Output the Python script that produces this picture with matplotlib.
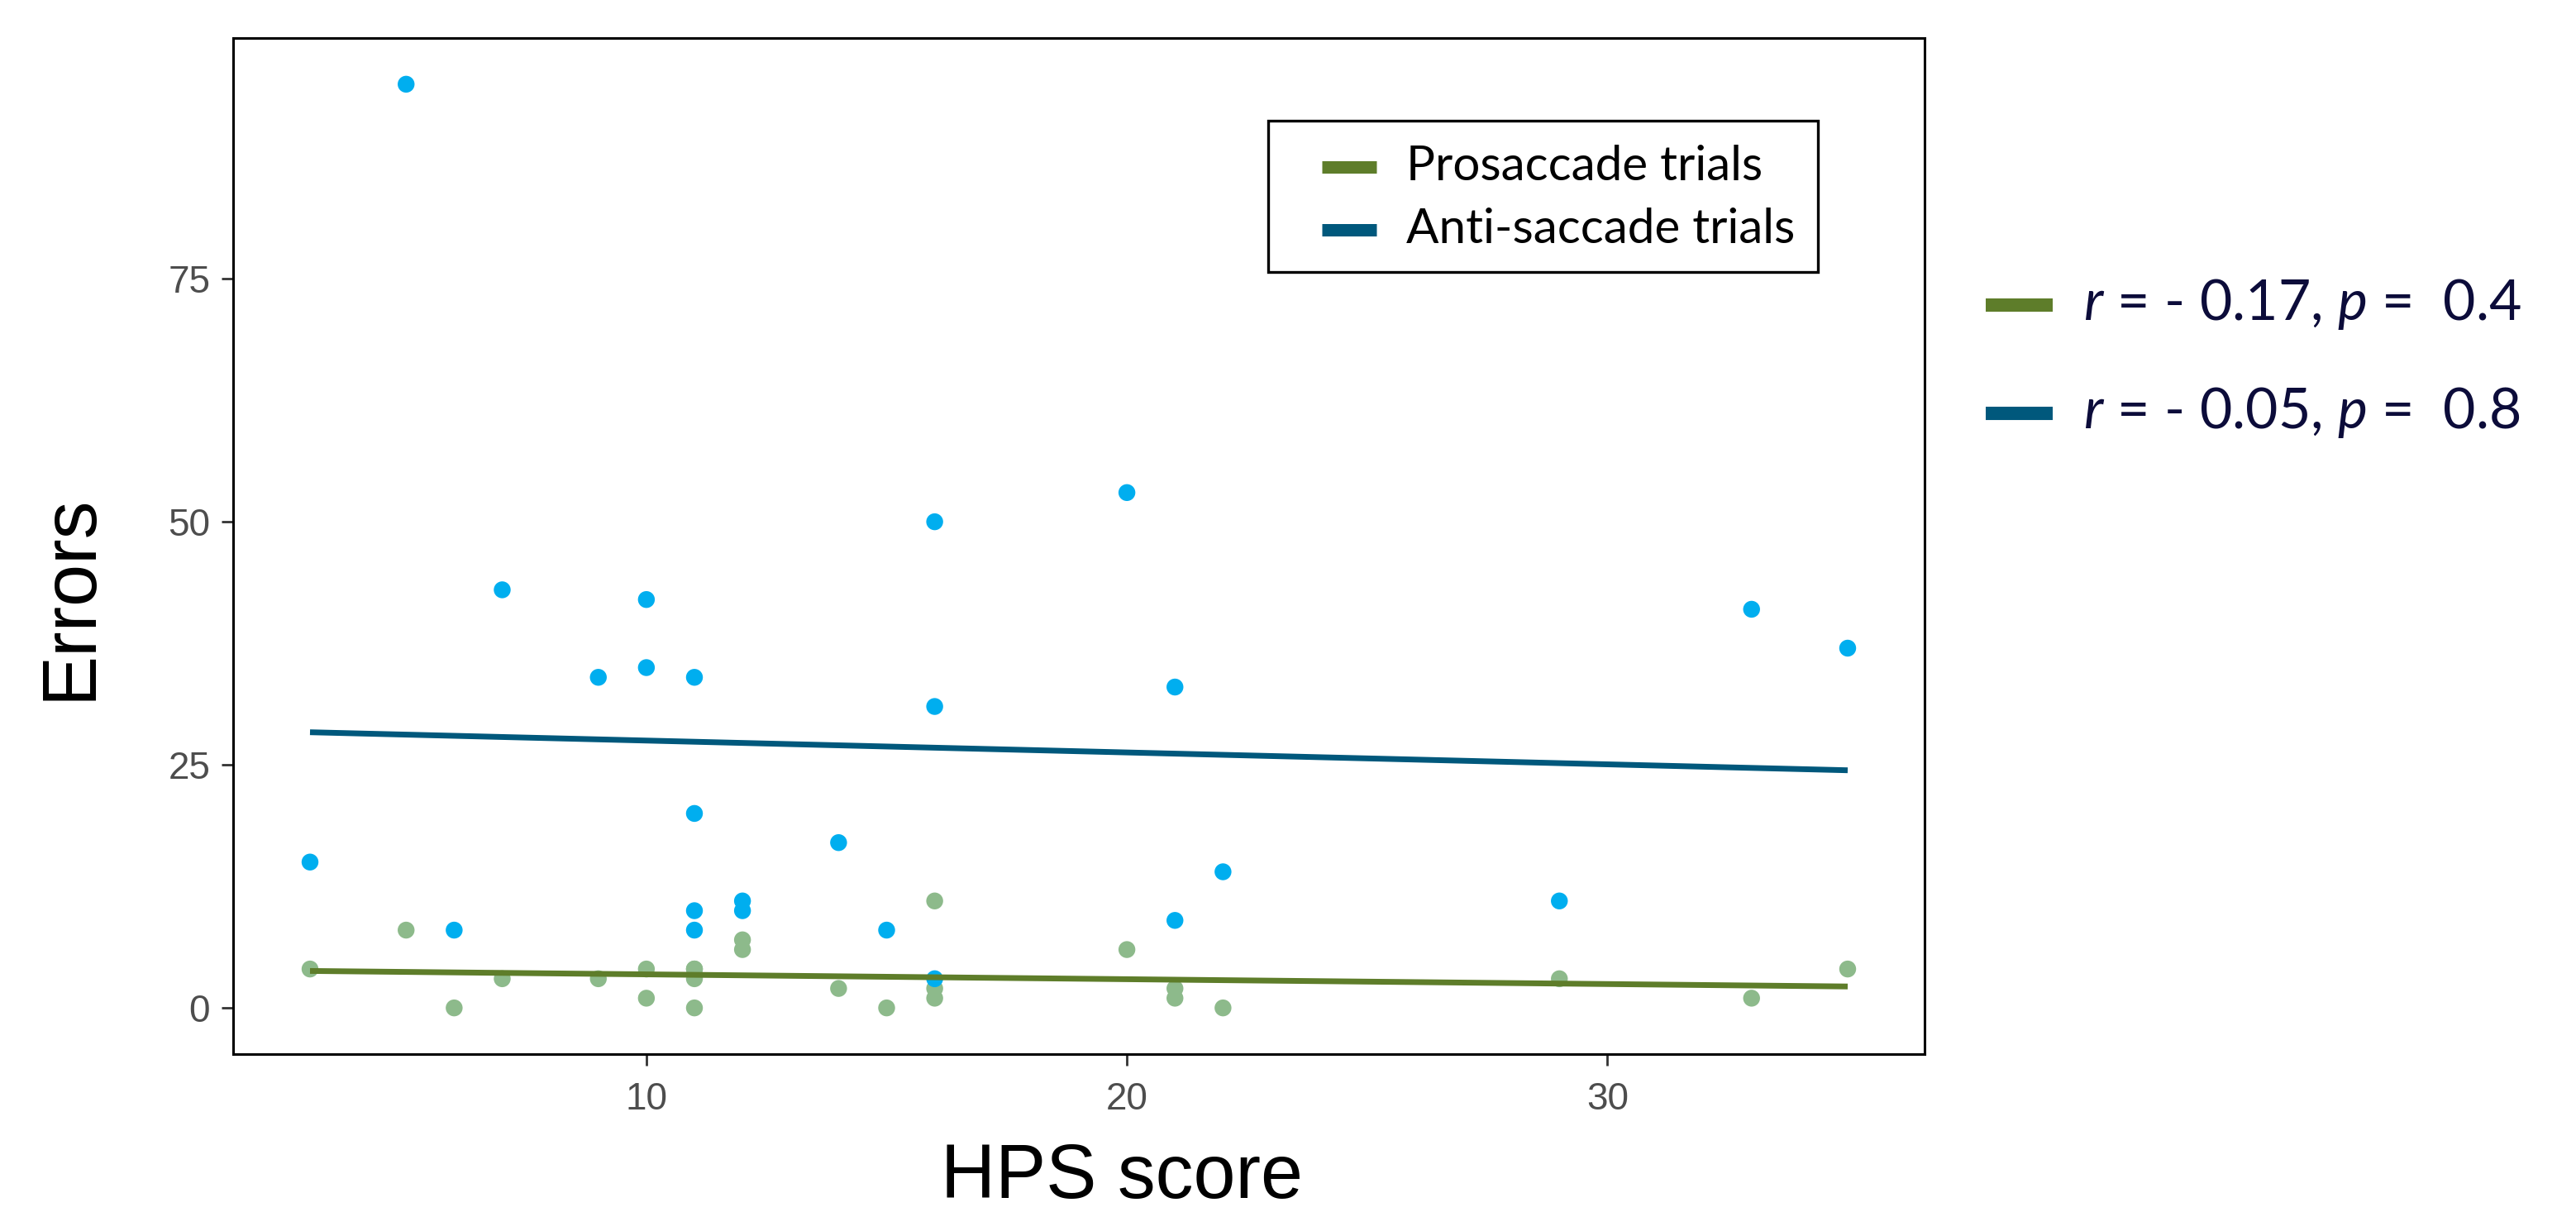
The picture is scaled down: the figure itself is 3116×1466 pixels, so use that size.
import numpy as np
import matplotlib.pyplot as plt
from matplotlib.lines import Line2D
from matplotlib.patches import Rectangle

# HPS score of each participant, with errors on both trial types
hps_score = [3, 5, 6, 7, 9, 10, 10, 11, 11, 11, 11, 12, 12, 14, 15, 16, 16, 16, 20, 21, 21, 22, 29, 33, 35]
pro_errors = [4, 8, 0, 3, 3, 4, 1, 4, 4, 3, 0, 7, 6, 2, 0, 11, 2, 1, 6, 2, 1, 0, 3, 1, 4]
anti_errors = [15, 95, 8, 43, 34, 42, 35, 34, 20, 10, 8, 11, 10, 17, 8, 50, 31, 3, 53, 33, 9, 14, 11, 41, 37]

series_names = ['Prosaccade trials', 'Anti-saccade trials']
r_values = ['- 0.17', '- 0.05']
p_values = ['0.4', '0.8']

x_ticks = [10, 20, 30]
y_ticks = [0, 25, 50, 75]

point_colors = ['#8dba8b', '#00aeef']
line_colors = ['#5e7d2a', '#00587c']

plt.rcParams['mathtext.fontset'] = 'custom'
plt.rcParams['mathtext.rm'] = 'Lato'
plt.rcParams['mathtext.it'] = 'Lato:italic'

W, H = 3116, 1466
fig = plt.figure(figsize=(W / 200, H / 200), dpi=200)
ax = fig.add_axes([282 / W, 1 - 1275 / H, (2328 - 282) / W, (1275 - 46) / H])


def fx(px):
    return px / W


def fy(py):
    return 1 - py / H


x = np.array(hps_score)
series = [np.array(pro_errors), np.array(anti_errors)]

# points first, then the fitted lines on top
for y, c in zip(series, point_colors):
    ax.scatter(x, y, s=54, color=c, edgecolors='none', zorder=2)

xs = np.array([x.min(), x.max()])
for y, c in zip(series[::-1], line_colors[::-1]):
    slope, intercept = np.polyfit(x, y, 1)
    ax.plot(xs, slope * xs + intercept, color=c, lw=2.5, solid_capstyle='butt', zorder=3)

# ggplot style 5% expansion
ymax = max(max(pro_errors), max(anti_errors))
xr = x.max() - x.min()
ax.set_xlim(x.min() - 0.05 * xr, x.max() + 0.05 * xr)
ax.set_ylim(-0.05 * ymax, ymax * 1.05)
ax.set_xticks(x_ticks)
ax.set_yticks(y_ticks)

for s in ax.spines.values():
    s.set_linewidth(1.1)
    s.set_color('black')
ax.tick_params(length=5, width=1.0, color='#333333', labelsize=16.5, labelcolor='#4d4d4d')
ax.tick_params(axis='y', pad=5)
ax.tick_params(axis='x', pad=7)
for lab in ax.get_xticklabels() + ax.get_yticklabels():
    lab.set_fontfamily('Liberation Sans')

fig.text(fx(85), fy(722), 'Errors', rotation=90, ha='center', va='center',
         fontsize=33, family='Liberation Sans')
fig.text(fx(1357), fy(1449), 'HPS score', ha='center', va='baseline',
         fontsize=33, family='Liberation Sans')

# legend box inside the panel
fig.add_artist(Rectangle((fx(1534), fy(329)), fx(2199 - 1534), (329 - 146) / H,
                         transform=fig.transFigure, facecolor='white', edgecolor='black',
                         lw=1.2, zorder=4))
for i, (name, c) in enumerate(zip(series_names, line_colors)):
    yc = 202 + 76 * i
    fig.add_artist(Line2D([fx(1599), fx(1665)], [fy(yc), fy(yc)], color=c, lw=5.4,
                          solid_capstyle='butt', transform=fig.transFigure, zorder=5))
    fig.text(fx(1701), fy(yc + 16), name, family='Lato', fontsize=21,
             va='baseline', zorder=5)

# correlation results to the right of the panel
for i, (r, p, c) in enumerate(zip(r_values, p_values, line_colors)):
    yc = 369 + 131 * i
    fig.add_artist(Line2D([fx(2402), fx(2483)], [fy(yc), fy(yc)], color=c, lw=5.8,
                          solid_capstyle='butt', transform=fig.transFigure))
    label = r'$\mathit{r}$ = ' + r + r', $\mathit{p}$ =  ' + p
    fig.text(fx(2520), fy(yc + 18), label, family='Lato', fontsize=24.5,
             color='#0c0c3a', va='baseline')

fig.savefig('out.png', dpi=200, facecolor='white')
